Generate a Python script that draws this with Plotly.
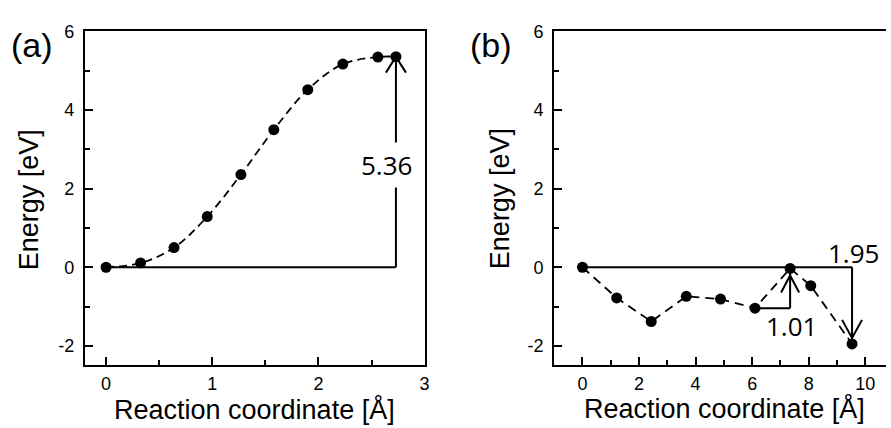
import plotly.graph_objects as go

# ---- data -------------------------------------------------------------
# (a) energy profile along the reaction coordinate
xa = [0.0, 0.325, 0.64, 0.953, 1.27, 1.58, 1.90, 2.23, 2.56, 2.73]
ea = [0.0, 0.11, 0.50, 1.29, 2.36, 3.50, 4.52, 5.17, 5.35, 5.36]

# (b) energy profile along the reaction coordinate
xb = [0.0, 1.21, 2.43, 3.67, 4.88, 6.10, 7.34, 8.07, 9.53]
eb = [0.0, -0.78, -1.38, -0.74, -0.81, -1.04, -0.03, -0.47, -1.95]

# labelled energy differences
barrier_a = 5.36
barrier_b = 1.01
drop_b = 1.95

# tick values / labels (plain hyphen for negatives)
y_ticks = [-2, 0, 2, 4, 6]
y_ticktext = ["-2", "0", "2", "4", "6"]
xa_ticks = [0, 1, 2, 3]
xb_ticks = [0, 2, 4, 6, 8, 10]

x_title = "Reaction coordinate [Å]"
y_title = "Energy [eV]"

# ---- layout geometry --------------------------------------------------
W, H = 891, 428


def fx(px):
    return px / W


def fy(py):
    return 1 - py / H


dom_a = [fx(85.3), fx(427)]
dom_b = [fx(557.3), 1.0]
dom_y = [fy(364), fy(22)]

tick_font = dict(family="Liberation Sans, Arial", size=18, color="black")
title_font = dict(family="Liberation Sans, Arial", size=27, color="black")
num_font = dict(family="Open Sans, Noto Sans", size=26, color="black")
letter_font = dict(family="Liberation Sans, Arial", size=34, color="black")

fig = go.Figure()

fig.add_trace(go.Scatter(
    x=xa, y=ea, mode="lines+markers", xaxis="x", yaxis="y",
    line=dict(color="black", width=1.8, dash="8px,5px", shape="spline", smoothing=1.0),
    marker=dict(color="black", size=11), showlegend=False,
))
fig.add_trace(go.Scatter(
    x=xb, y=eb, mode="lines+markers", xaxis="x2", yaxis="y2",
    line=dict(color="black", width=1.8, dash="9px,6px"),
    marker=dict(color="black", size=11), showlegend=False,
))

axis_common = dict(
    showline=True, linecolor="black", linewidth=2,
    ticks="inside", ticklen=8, tickwidth=1.5, tickcolor="black",
    showgrid=False, zeroline=False, tickfont=tick_font,
)


def minor(step):
    return dict(ticks="inside", ticklen=5, tickwidth=1.5, tickcolor="black", dtick=step)


fig.update_layout(
    width=W, height=H,
    margin=dict(l=0, r=0, t=0, b=0),
    paper_bgcolor="white", plot_bgcolor="white",
    xaxis=dict(domain=dom_a, anchor="y", range=[-0.2, 3.0], tickvals=xa_ticks,
               mirror=True, ticklabelstandoff=1, minor=minor(0.5), **axis_common),
    yaxis=dict(domain=dom_y, anchor="x", range=[-2.5, 6.0], tickvals=y_ticks,
               ticktext=y_ticktext, mirror=True, ticklabelstandoff=5,
               minor=minor(1), **axis_common),
    xaxis2=dict(domain=dom_b, anchor="y2", range=[-1.0, 10.73], tickvals=xb_ticks,
                mirror=True, ticklabelstandoff=1, minor=minor(1), **axis_common),
    yaxis2=dict(domain=dom_y, anchor="x2", range=[-2.5, 6.0], tickvals=y_ticks,
                ticktext=y_ticktext, mirror=False, ticklabelstandoff=5,
                minor=minor(1), **axis_common),
)

line_style = dict(color="black", width=2)
shapes = []

# (a) baseline and upward arrow to the top of the profile
xa_end = xa[-1]
shapes.append(dict(type="line", xref="x", yref="y", x0=xa[0], y0=0, x1=xa_end, y1=0,
                   line=line_style, layer="below"))
shapes.append(dict(type="line", xref="x", yref="y", x0=xa_end, y0=0, x1=xa_end,
                   y1=ea[0] + barrier_a, line=line_style, layer="below"))
shapes.append(dict(type="path", xref="x", yref="y", xsizemode="pixel", ysizemode="pixel",
                   xanchor=xa_end, yanchor=ea[0] + barrier_a,
                   path="M-10,-16 L0,0 L10,-16", line=line_style))

# (b) baseline and downward arrow to the final state
xb_end = xb[-1]
shapes.append(dict(type="line", xref="x2", yref="y2", x0=xb[0], y0=0, x1=xb_end, y1=0,
                   line=line_style, layer="below"))
shapes.append(dict(type="line", xref="x2", yref="y2", x0=xb_end, y0=0, x1=xb_end,
                   y1=eb[0] - drop_b, line=line_style, layer="below"))
shapes.append(dict(type="path", xref="x2", yref="y2", xsizemode="pixel", ysizemode="pixel",
                   xanchor=xb_end, yanchor=eb[0] - drop_b,
                   path="M-10,24 L0,6 L10,24", line=line_style))

# (b) barrier between the 6th and 7th states
x_lo, x_ts = xb[5], xb[6]
shapes.append(dict(type="line", xref="x2", yref="y2", x0=x_lo, y0=eb[5], x1=x_ts, y1=eb[5],
                   line=line_style, layer="below"))
shapes.append(dict(type="line", xref="x2", yref="y2", x0=x_ts, y0=eb[5], x1=x_ts,
                   y1=eb[5] + barrier_b, line=line_style, layer="below"))
shapes.append(dict(type="path", xref="x2", yref="y2", xsizemode="pixel", ysizemode="pixel",
                   xanchor=x_ts, yanchor=eb[5] + barrier_b,
                   path="M-9,-24 L0,-7 L9,-24", line=line_style))

fig.update_layout(shapes=shapes)

centred = dict(showarrow=False, xanchor="center", yanchor="middle")
annotations = [
    # value labels
    dict(x=2.64, y=2.6, xref="x", yref="y", text=f"{barrier_a:.2f}",
         font=num_font, bgcolor="white", borderpad=4, **centred),
    dict(x=9.57, y=0.37, xref="x2", yref="y2", text=f"{drop_b:.2f}",
         font=num_font, **centred),
    dict(x=7.39, y=-1.50, xref="x2", yref="y2", text=f"{barrier_b:.2f}",
         font=num_font, **centred),
    # panel letters
    dict(x=fx(32), y=fy(36), xref="paper", yref="paper", text="(a)",
         font=letter_font, **centred),
    dict(x=fx(494), y=fy(36), xref="paper", yref="paper", text="(b)",
         font=letter_font, **centred),
    # axis titles
    dict(x=fx(256), y=fy(409), xref="paper", yref="paper", text=x_title,
         font=title_font, **centred),
    dict(x=fx(728.5), y=fy(408), xref="paper", yref="paper", text=x_title,
         font=title_font, **centred),
    dict(x=fx(30), y=fy(194), xref="paper", yref="paper", text=y_title,
         textangle=-90, font=title_font, **centred),
    dict(x=fx(503.5), y=fy(193), xref="paper", yref="paper", text=y_title,
         textangle=-90, font=title_font, **centred),
]
fig.update_layout(annotations=annotations)

fig.write_html("out.html")
